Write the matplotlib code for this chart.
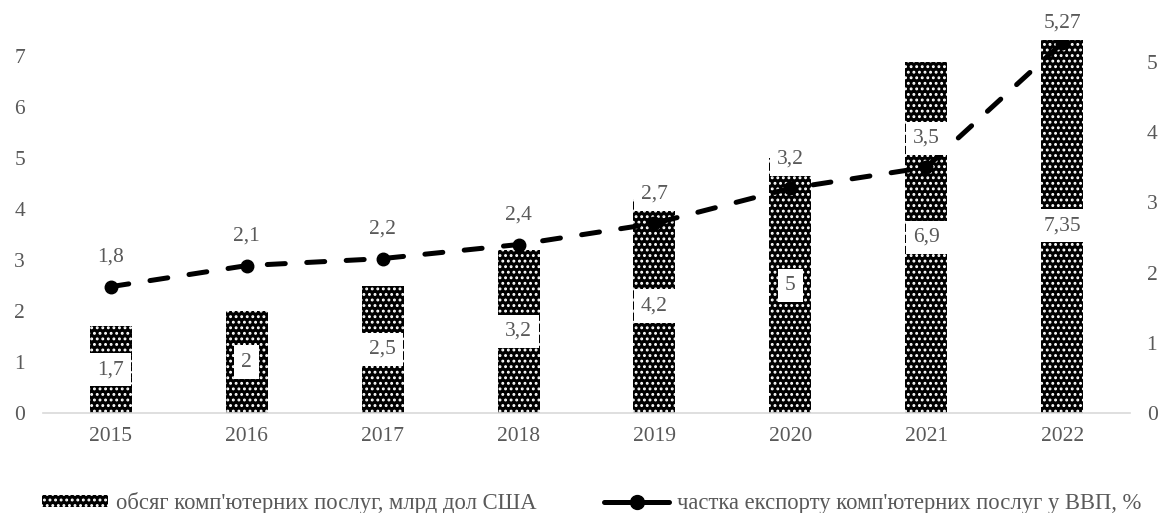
import matplotlib
matplotlib.use("Agg")
import matplotlib.pyplot as plt
from matplotlib.patches import Patch
from matplotlib.lines import Line2D

years = ["2015", "2016", "2017", "2018", "2019", "2020", "2021", "2022"]
volume = [1.7, 2, 2.5, 3.2, 4.2, 5, 6.9, 7.35]
share = [1.8, 2.1, 2.2, 2.4, 2.7, 3.2, 3.5, 5.27]
volume_labels = ["1,7", "2", "2,5", "3,2", "4,2", "5", "6,9", "7,35"]
share_labels = ["1,8", "2,1", "2,2", "2,4", "2,7", "3,2", "3,5", "5,27"]
left_ticks = [0, 1, 2, 3, 4, 5, 6, 7]
right_ticks = [0, 1, 2, 3, 4, 5]
legend_labels = ["обсяг комп'ютерних послуг, млрд дол США",
                 "частка експорту комп'ютерних послуг у ВВП, %"]

GRAY = "#595959"
FS = 15.5
LFS = 16.25
plt.rcParams['font.family'] = ['Liberation Serif', 'DejaVu Serif']
plt.rcParams['hatch.color'] = 'white'
plt.rcParams['hatch.linewidth'] = 1.3

W, H = 1163, 513
fig = plt.figure(figsize=(W / 100, H / 100), dpi=100)
ax = fig.add_axes([43 / W, 1 - 413 / H, (1130 - 43) / W, (413 - 31) / H])
ax2 = ax.twinx()

x = list(range(len(years)))
ax.bar(x, volume, width=0.31, color='black', hatch='...', linewidth=0, zorder=2)

ax2.plot(x, share, color='black', lw=3.6, marker='o', markersize=9,
         dashes=(3.6, 4.3), dash_capstyle='round', solid_capstyle='round', zorder=3)

ax.set_xlim(-0.5, len(years) - 0.5)
ax.set_ylim(0, 7.5)
r_top = 382 / 70.2
ax2.set_ylim(0, r_top)
ax.set_yticks(left_ticks)
ax2.set_yticks(right_ticks)
ax.set_xticks(x)
ax.set_xticklabels(years)

for a in (ax, ax2):
    for s in a.spines.values():
        s.set_visible(False)
ax.spines['bottom'].set_visible(True)
ax.spines['bottom'].set_color('#D9D9D9')
ax.spines['bottom'].set_linewidth(1.2)

ax.tick_params(axis='y', length=0, pad=13, labelsize=FS, labelcolor=GRAY)
ax.tick_params(axis='x', length=0, pad=10, labelsize=FS, labelcolor=GRAY)
ax2.tick_params(axis='y', length=0, pad=12, labelsize=FS, labelcolor=GRAY)

box = dict(boxstyle='square,pad=0.33', fc='white', ec='none')
for i, (v, lab) in enumerate(zip(volume, volume_labels)):
    ax2.text(i, v / 2, lab, transform=ax.transData, ha='center', va='center',
             fontsize=FS, color=GRAY, bbox=box, zorder=5)

px_per_unit = 70.2
label_top = (413 - 23) / px_per_unit
for i, (v, lab) in enumerate(zip(share, share_labels)):
    off = min(21, (label_top - v) * px_per_unit / 1.389)
    ax2.annotate(lab, (i, v), xytext=(0, off), textcoords='offset points',
                 ha='center', va='center', fontsize=FS, color=GRAY, bbox=box, zorder=5)

h1 = Patch(facecolor='black', hatch='...', linewidth=0)
h2 = Line2D([], [], color='black', lw=3.6, marker='o', markersize=10, solid_capstyle='round')
fig.legend([h1, h2], legend_labels, ncol=2, loc='center', bbox_to_anchor=(592 / W, 1 - 503 / H),
           frameon=False, fontsize=LFS, labelcolor=GRAY, handlelength=2.9, handleheight=0.4,
           handletextpad=0.35, columnspacing=3.0)

fig.savefig("out.png", dpi=100)
